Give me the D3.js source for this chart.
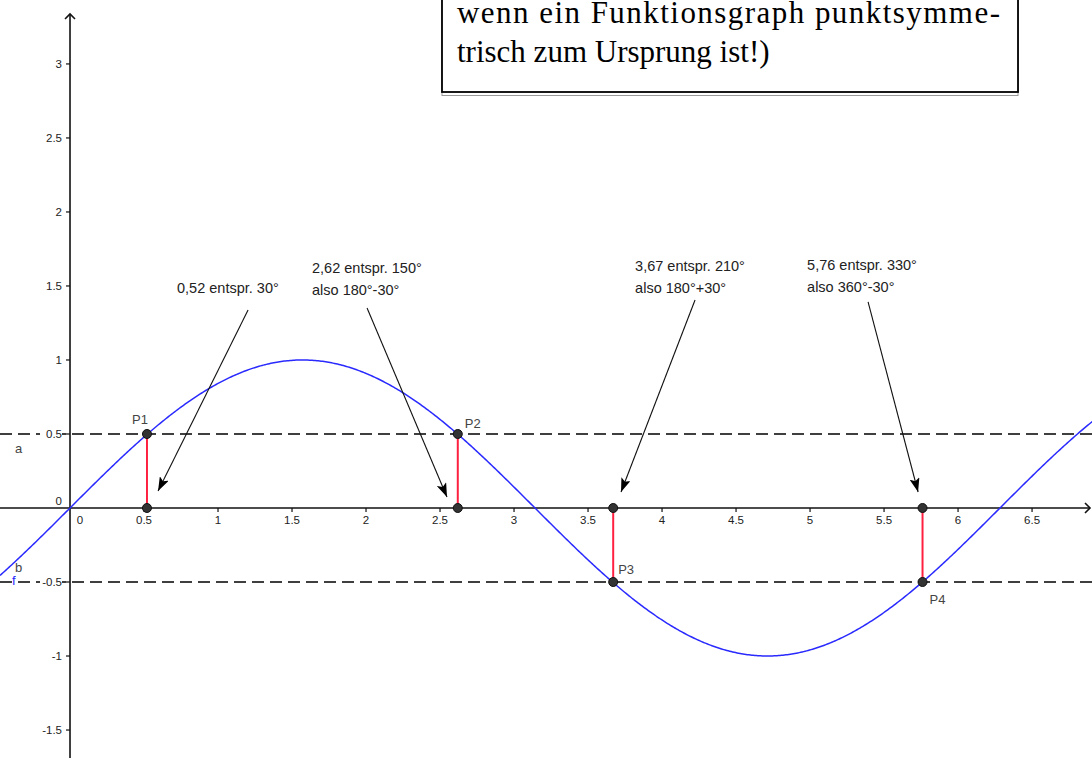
<!DOCTYPE html>
<html>
<head>
<meta charset="utf-8">
<script src="https://cdn.jsdelivr.net/npm/d3@7"></script>
<style>
  html, body { margin: 0; padding: 0; background: #fff; }
  svg { display: block; }
  .tick-label { font-family: "Liberation Sans", Arial, sans-serif; font-size: 11.5px; fill: #222; }
  .note { font-family: "Liberation Sans", Arial, sans-serif; font-size: 14.5px; fill: #222; }
  .pt-label { font-family: "Liberation Sans", Arial, sans-serif; font-size: 13px; fill: #444; }
  .box-text { font-family: "Liberation Serif", "Times New Roman", serif; font-size: 31px; fill: #000; }
</style>
</head>
<body>
<script>
// f(x) = sin(x) with the lines a: y = 0.5 and b: y = -0.5
const f = Math.sin;
const levelA = 0.5;
const levelB = -0.5;

// intersection points (x values as stated in the notes)
const pointNames = ["P1", "P2", "P3", "P4"];
const pointX = [0.52, 2.62, 3.67, 5.76];
const pointY = [0.5, 0.5, -0.5, -0.5];

// axis ticks
const xTicks = [0.5, 1, 1.5, 2, 2.5, 3, 3.5, 4, 4.5, 5, 5.5, 6, 6.5];
const xTickLabels = ["0.5", "1", "1.5", "2", "2.5", "3", "3.5", "4", "4.5", "5", "5.5", "6", "6.5"];
const yTicks = [3, 2.5, 2, 1.5, 1, 0.5, -0.5, -1, -1.5];
const yTickLabels = ["3", "2.5", "2", "1.5", "1", "0.5", "-0.5", "-1", "-1.5"];

// notes and their arrows (anchors and arrow ends in graph units)
const noteLines = [
  ["0,52 entspr. 30°"],
  ["2,62 entspr. 150°", "also 180°-30°"],
  ["3,67 entspr. 210°", "also 180°+30°"],
  ["5,76 entspr. 330°", "also 360°-30°"]
];
const noteAnchor = [[0.723, 1.453], [1.635, 1.588], [3.818, 1.602], [4.980, 1.608]];
const arrowFrom = [[1.203, 1.338], [2.007, 1.351], [4.223, 1.405], [5.392, 1.392]];
const arrowTo = [[0.595, 0.115], [2.547, 0.074], [3.723, 0.108], [5.730, 0.108]];

const boxLines = ["wenn ein Funktionsgraph punktsymme-", "trisch zum Ursprung ist!)"];

const W = 1092, H = 758;
const x = d3.scaleLinear().domain([-0.473, 6.905]).range([0, W]);
const y = d3.scaleLinear().domain([-1.689, 3.432]).range([H, 0]);

const svg = d3.select("body").append("svg").attr("width", W).attr("height", H);

const defs = svg.append("defs");
defs.append("marker")
  .attr("id", "head")
  .attr("viewBox", "0 0 14 10")
  .attr("refX", 14).attr("refY", 5)
  .attr("markerWidth", 14).attr("markerHeight", 10)
  .attr("markerUnits", "userSpaceOnUse")
  .attr("orient", "auto")
  .append("path").attr("d", "M0,0 L14,5 L0,10 L3,5 Z").attr("fill", "#000");

// dashed lines a and b
svg.selectAll("line.level").data([levelA, levelB]).join("line")
  .attr("class", "level")
  .attr("x1", 0).attr("x2", W)
  .attr("y1", d => y(d)).attr("y2", d => y(d))
  .attr("stroke", "#000").attr("stroke-width", 1.3)
  .attr("stroke-dasharray", "12,6");

// axes
const x0 = x(0), y0 = y(0);
const axisG = svg.append("g").attr("stroke", "#111").attr("stroke-width", 1.6).attr("fill", "none");
axisG.append("line").attr("x1", 0).attr("x2", W - 2).attr("y1", y0).attr("y2", y0);
axisG.append("path").attr("d", `M${W - 7},${y0 - 5} L${W - 2},${y0} L${W - 7},${y0 + 5}`);
axisG.append("line").attr("x1", x0).attr("x2", x0).attr("y1", H).attr("y2", 14);
axisG.append("path").attr("d", `M${x0 - 5},${19} L${x0},${14} L${x0 + 5},${19}`);

// x ticks and labels
svg.append("g").selectAll("line").data(xTicks).join("line")
  .attr("x1", d => x(d)).attr("x2", d => x(d))
  .attr("y1", y0).attr("y2", y0 + 4)
  .attr("stroke", "#111").attr("stroke-width", 1.2);
svg.append("g").selectAll("text").data(xTicks).join("text")
  .attr("class", "tick-label")
  .attr("x", d => x(d)).attr("y", y0 + 16)
  .attr("text-anchor", "middle")
  .text((d, i) => xTickLabels[i]);

// y ticks and labels
svg.append("g").selectAll("line").data(yTicks).join("line")
  .attr("x1", x0 - 4).attr("x2", x0)
  .attr("y1", d => y(d)).attr("y2", d => y(d))
  .attr("stroke", "#111").attr("stroke-width", 1.2);
const yLab = svg.append("g");
yLab.selectAll("rect").data(yTicks).join("rect")
  .attr("x", x0 - 8 - 22).attr("y", d => y(d) - 6)
  .attr("width", 22).attr("height", 12)
  .attr("fill", "#fff")
  .attr("display", d => Math.abs(d) === 0.5 ? null : "none");
yLab.selectAll("text").data(yTicks).join("text")
  .attr("class", "tick-label")
  .attr("x", x0 - 8).attr("y", d => y(d) + 4)
  .attr("text-anchor", "end")
  .text((d, i) => yTickLabels[i]);

// origin labels
svg.append("text").attr("class", "tick-label").attr("x", x0 + 10).attr("y", y0 + 16)
  .attr("text-anchor", "middle").text("0");
svg.append("text").attr("class", "tick-label").attr("x", x0 - 8).attr("y", y0 - 3)
  .attr("text-anchor", "end").text("0");

// graph of f
const samples = d3.range(x.domain()[0], x.domain()[1] + 0.01, 0.01);
svg.append("path")
  .datum(samples)
  .attr("d", d3.line().x(d => x(d)).y(d => y(f(d))))
  .attr("fill", "none").attr("stroke", "#2a2aff").attr("stroke-width", 1.5);

// line labels
svg.append("text").attr("class", "pt-label").attr("x", 15).attr("y", y(levelA) + 19).text("a");
svg.append("text").attr("class", "pt-label").attr("x", 15).attr("y", y(levelB) - 10).text("b");
svg.append("text").attr("class", "pt-label").attr("x", 12).attr("y", y(levelB) + 3)
  .style("fill", "#2a2aff").text("f");

// red connectors from the x axis to the points
svg.append("g").selectAll("line").data(pointX).join("line")
  .attr("x1", d => x(d)).attr("x2", d => x(d))
  .attr("y1", y0).attr("y2", (d, i) => y(pointY[i]))
  .attr("stroke", "#ff2040").attr("stroke-width", 2);

// points on the curve and their feet on the x axis
const dots = [];
pointX.forEach((px, i) => { dots.push([px, pointY[i]]); dots.push([px, 0]); });
svg.append("g").selectAll("circle").data(dots).join("circle")
  .attr("cx", d => x(d[0])).attr("cy", d => y(d[1]))
  .attr("r", 4.5)
  .attr("fill", "#333").attr("stroke", "#111").attr("stroke-width", 1);

// point names
const nameOffset = [[-15, -10], [7, -6], [5, -8], [7, 22]];
svg.append("g").selectAll("text").data(pointNames).join("text")
  .attr("class", "pt-label")
  .attr("x", (d, i) => x(pointX[i]) + nameOffset[i][0])
  .attr("y", (d, i) => y(pointY[i]) + nameOffset[i][1])
  .text(d => d);

// arrows
svg.append("g").selectAll("line").data(arrowFrom).join("line")
  .attr("x1", d => x(d[0])).attr("y1", d => y(d[1]))
  .attr("x2", (d, i) => x(arrowTo[i][0])).attr("y2", (d, i) => y(arrowTo[i][1]))
  .attr("stroke", "#111").attr("stroke-width", 1.1)
  .attr("marker-end", "url(#head)");

// notes
const notes = svg.append("g");
noteLines.forEach((lines, i) => {
  const t = notes.append("text").attr("class", "note")
    .attr("x", x(noteAnchor[i][0])).attr("y", y(noteAnchor[i][1]));
  lines.forEach((s, j) => {
    t.append("tspan").attr("x", x(noteAnchor[i][0])).attr("dy", j === 0 ? 0 : 22).text(s);
  });
});

// text box (justified first line, ragged last line)
const box = svg.append("g");
box.append("rect").attr("x", 442).attr("y", -10).attr("width", 576).attr("height", 104)
  .attr("fill", "none").attr("stroke", "#999").attr("stroke-width", 1).attr("transform", "translate(0,1.5)");
box.append("rect").attr("x", 442).attr("y", -10).attr("width", 576).attr("height", 102)
  .attr("fill", "#fff").attr("stroke", "#000").attr("stroke-width", 1.8);
const boxText = box.selectAll("text").data(boxLines).join("text")
  .attr("class", "box-text")
  .attr("x", 457).attr("y", (d, i) => 23 + i * 39)
  .text(d => d);
boxText.filter((d, i) => i === 0)
  .attr("textLength", 543)
  .attr("lengthAdjust", "spacing");
</script>
</body>
</html>
